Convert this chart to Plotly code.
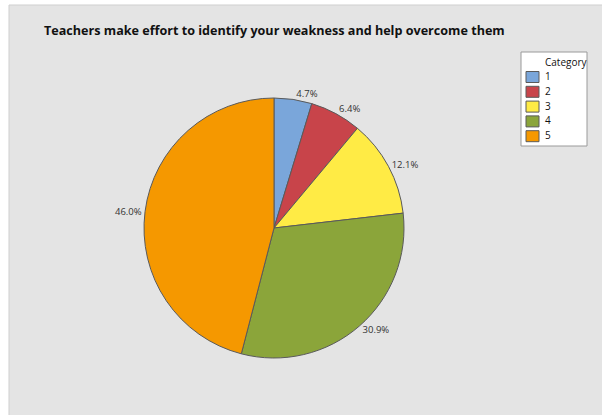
import plotly.graph_objects as go

categories = ["1", "2", "3", "4", "5"]
percentages = [4.7, 6.4, 12.1, 30.9, 46.0]
colors = ["#7AA6DA", "#C8444A", "#FFEB45", "#8BA53A", "#F59800"]
legend_title = "Category"
chart_title = "Teachers make effort to identify your weakness and help overcome them"

W, H = 602, 415
cx, cy, r = 274, 228, 130


def px(x):
    return x / W


def py(y):
    return 1 - y / H


fig = go.Figure(go.Pie(
    labels=categories,
    values=percentages,
    sort=False,
    direction="clockwise",
    rotation=0,
    marker=dict(colors=colors, line=dict(color="#5a5a5a", width=1)),
    texttemplate="%{value:.1f}%",
    textposition="outside",
    textfont=dict(size=9.5, color="#333333", family="Open Sans"),
    hoverinfo="label+percent",
    domain=dict(x=[px(cx - r), px(cx + r)], y=[py(cy + r), py(cy - r)]),
    showlegend=False,
))

shapes = [dict(type="rect", xref="paper", yref="paper", x0=px(9), x1=1.01, y0=-0.01, y1=py(5),
               fillcolor="#e4e4e4", line=dict(color="#cfcfcf", width=1), layer="below"),
          dict(type="rect", xref="paper", yref="paper", x0=px(521), x1=px(587), y0=py(146), y1=py(52),
               fillcolor="white", line=dict(color="#9a9a9a", width=1), layer="above")]
annotations = [dict(text="<b>" + chart_title + "</b>",
                    x=px(42), y=py(30), xref="paper", yref="paper", xanchor="left", yanchor="middle",
                    showarrow=False, font=dict(size=12.6, color="#111111", family="Open Sans")),
               dict(text=legend_title, x=px(566), y=py(62), xref="paper", yref="paper",
                    xanchor="center", yanchor="middle", showarrow=False,
                    font=dict(size=10, color="#111111", family="Open Sans"))]

for i, (cat, col) in enumerate(zip(categories, colors)):
    yc = 77 + i * 14.8
    shapes.append(dict(type="rect", xref="paper", yref="paper", x0=px(526), x1=px(539),
                       y0=py(yc + 5.5), y1=py(yc - 5.5), fillcolor=col,
                       line=dict(color="#5a5a5a", width=1), layer="above"))
    annotations.append(dict(text=cat, x=px(543), y=py(yc - 1), xref="paper", yref="paper",
                            xanchor="left", yanchor="middle", showarrow=False,
                            font=dict(size=10, color="#111111", family="Open Sans")))

fig.update_layout(
    width=W, height=H,
    margin=dict(l=0, r=0, t=0, b=0),
    paper_bgcolor="white",
    font=dict(family="Open Sans", color="#222222"),
    shapes=shapes,
    annotations=annotations,
    showlegend=False,
)

fig.write_html("out.html", config={"displayModeBar": False},
               post_script="document.body.style.margin='0';")
